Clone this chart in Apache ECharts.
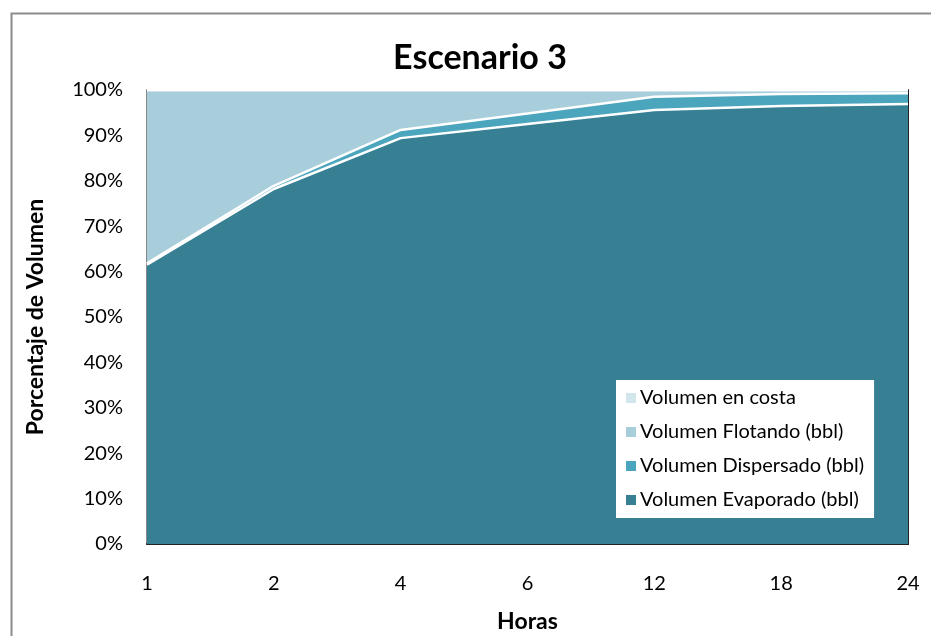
<!DOCTYPE html>
<html>
<head>
<meta charset="utf-8">
<script src="https://cdn.jsdelivr.net/npm/echarts@6/dist/echarts.min.js"></script>
<style>
  html, body { margin: 0; padding: 0; background: #fff; }
  #chart { width: 931px; height: 636px; }
</style>
</head>
<body>
<div id="chart"></div>
<script>
// horas
const horas = ["1", "2", "4", "6", "12", "18", "24"];
// porcentajes de volumen
const evaporado = [61.5, 78.2, 89.4, 92.5, 95.6, 96.5, 96.9];
const dispersado = [0.3, 0.7, 1.8, 2.3, 2.9, 2.6, 2.4];
const flotando = [38.2, 21.1, 8.8, 5.2, 1.5, 0.9, 0.7];
const costa = [0, 0, 0, 0, 0, 0, 0];

const yTicks = [0, 10, 20, 30, 40, 50, 60, 70, 80, 90, 100];

const font = "Lato, 'Open Sans', sans-serif";
const chart = echarts.init(document.getElementById("chart"));

function area(name, data, color) {
  return {
    name: name,
    type: "line",
    stack: "vol",
    data: data,
    symbol: "none",
    lineStyle: { color: "#ffffff", width: 2.5 },
    itemStyle: { color: color },
    areaStyle: { color: color, opacity: 1 },
    animation: false
  };
}

chart.setOption({
  title: {
    text: "Escenario 3",
    left: 475,
    textAlign: "center",
    top: 36,
    textStyle: { fontFamily: font, fontSize: 34, fontWeight: "bold", color: "#000" }
  },
  legend: {
    orient: "vertical",
    left: 616,
    top: 380,
    width: 257,
    backgroundColor: "#ffffff",
    padding: [8, 10, 8, 10],
    itemWidth: 10,
    itemHeight: 10,
    itemGap: 14,
    icon: "rect",
    data: ["Volumen en costa", "Volumen Flotando (bbl)", "Volumen Dispersado (bbl)", "Volumen Evaporado (bbl)"],
    textStyle: { fontFamily: font, fontSize: 20, color: "#000", padding: [0, 0, 0, -1] }
  },
  grid: {
    left: 147, right: 23, top: 90, bottom: 92,
    outerBoundsMode: "none",
    show: true, borderColor: "#d0d0d0", borderWidth: 1
  },
  xAxis: {
    type: "category",
    data: horas,
    boundaryGap: false,
    name: "Horas",
    nameLocation: "middle",
    nameGap: 66,
    nameTextStyle: { fontFamily: font, fontSize: 23, fontWeight: "bold", color: "#000" },
    axisLine: { show: true, lineStyle: { color: "#222", width: 2 } },
    axisTick: { show: false },
    axisLabel: { fontFamily: font, fontSize: 20, color: "#000", margin: 30 },
    splitLine: { show: false }
  },
  yAxis: [{
    type: "value",
    min: 0,
    max: 100,
    interval: 10,
    name: "Porcentaje de Volumen",
    nameLocation: "middle",
    nameGap: 100,
    nameTextStyle: { fontFamily: font, fontSize: 23, fontWeight: "bold", color: "#000" },
    axisLine: { show: true, lineStyle: { color: "#888", width: 2 } },
    axisTick: { show: false },
    axisLabel: {
      fontFamily: font, fontSize: 20, color: "#000", margin: 24,
      formatter: function (v) { return yTicks.indexOf(v) >= 0 ? v + "%" : ""; }
    },
    splitLine: { show: false }
  }, {
    type: "value",
    position: "right",
    min: 0,
    max: 100,
    interval: 10,
    axisLine: { show: true, lineStyle: { color: "#222", width: 2 } },
    axisTick: { show: false },
    axisLabel: { show: false },
    splitLine: { show: false }
  }],
  graphic: [{
    type: "rect",
    left: 9,
    top: 11,
    shape: { width: 960, height: 660 },
    style: { fill: "none", stroke: "#8c8c8c", lineWidth: 2 },
    silent: true
  }],
  series: [
    area("Volumen Evaporado (bbl)", evaporado, "#377f93"),
    area("Volumen Dispersado (bbl)", dispersado, "#4aa5bd"),
    area("Volumen Flotando (bbl)", flotando, "#a9cedb"),
    area("Volumen en costa", costa, "#d3e6ec")
  ]
});
</script>
</body>
</html>
